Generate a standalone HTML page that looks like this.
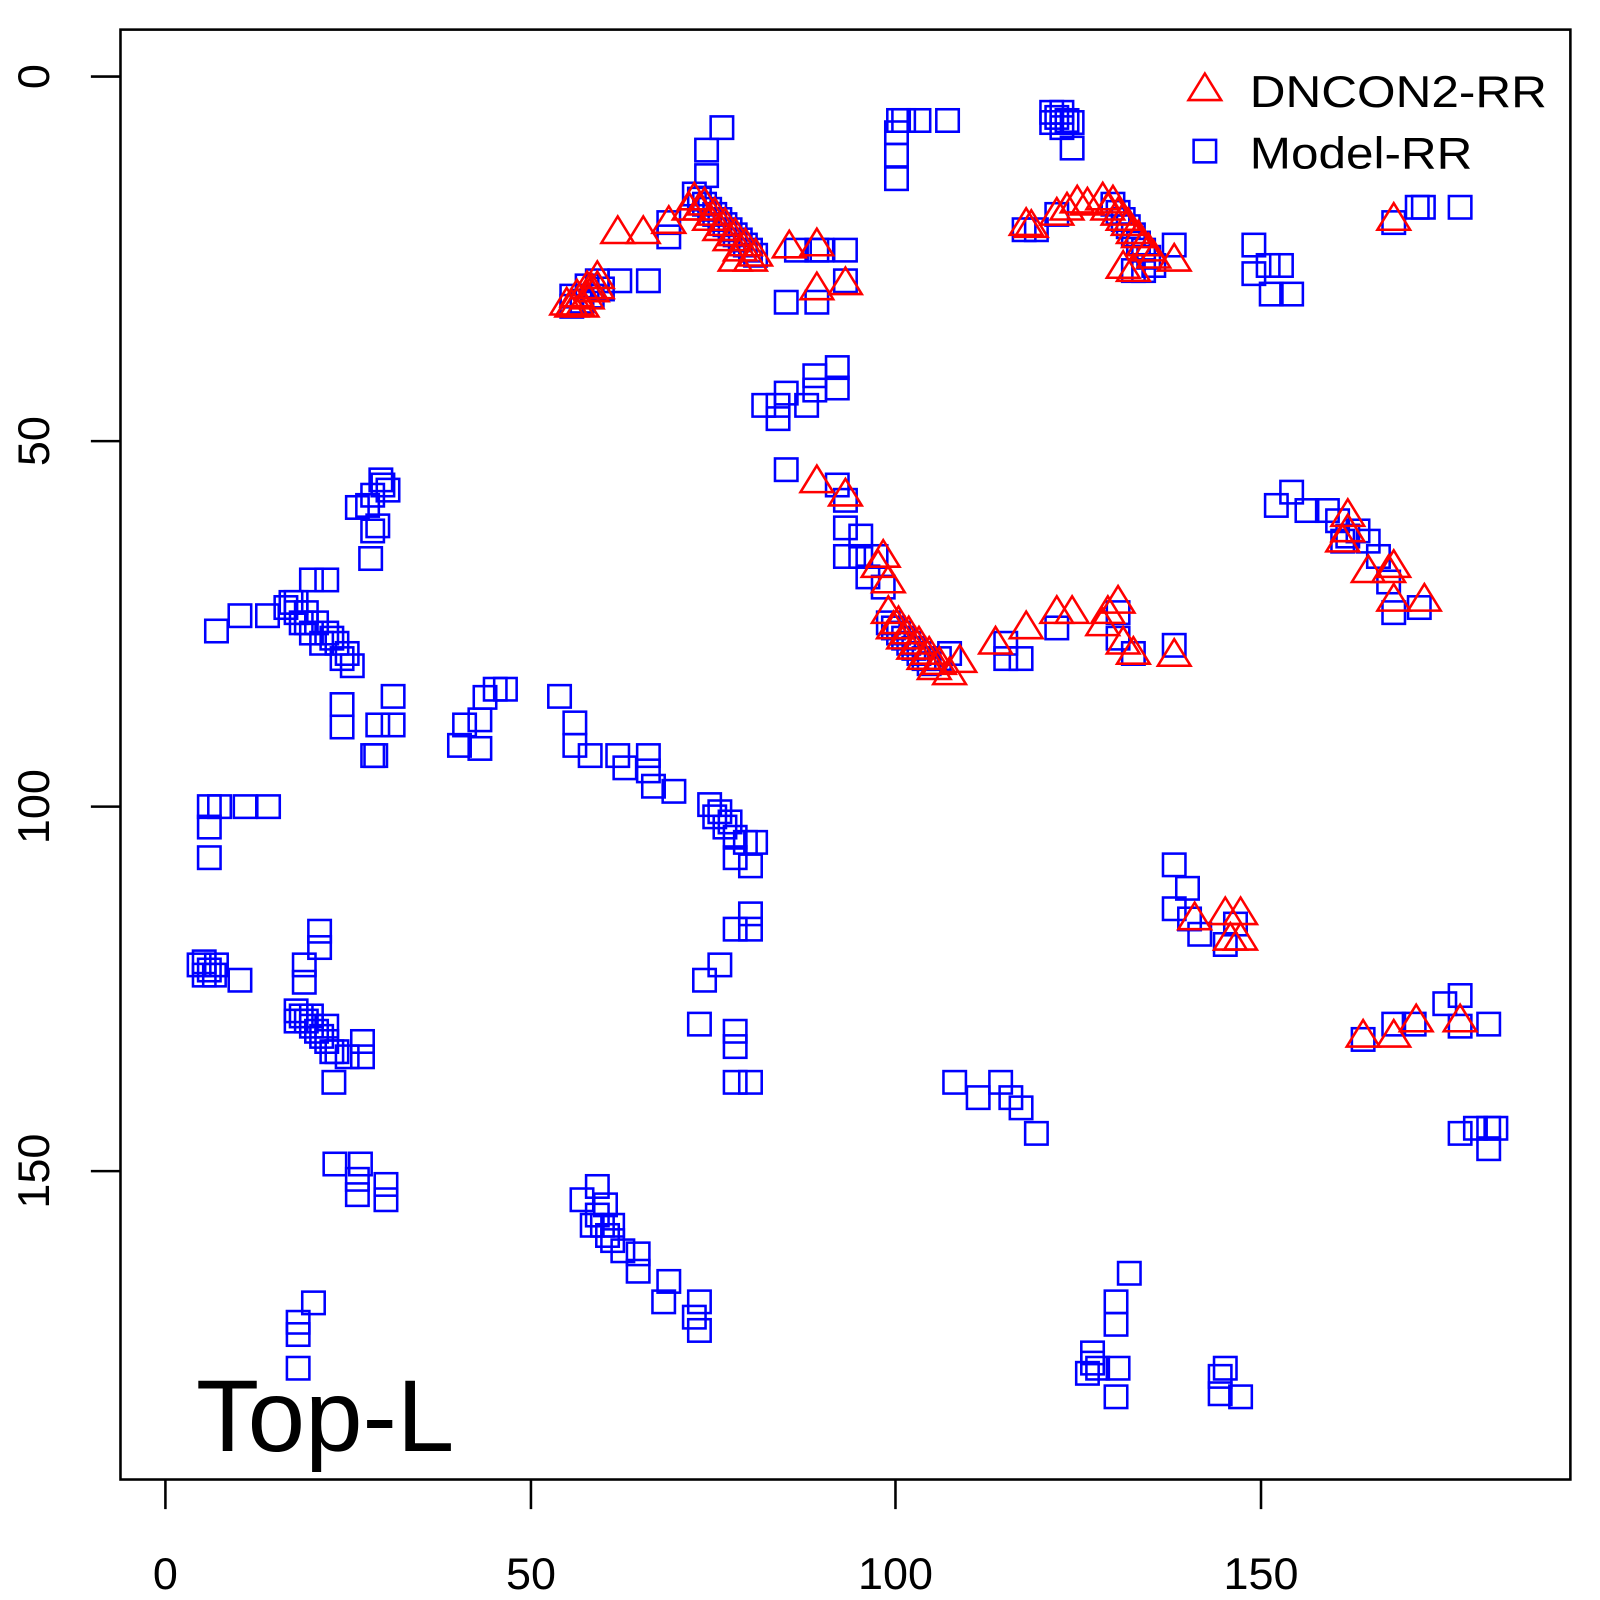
<!DOCTYPE html>
<html><head><meta charset="utf-8"><style>html,body{margin:0;padding:0;background:#fff}svg{display:block}</style></head>
<body>
<svg id="s" width="1600" height="1600" viewBox="0 0 1567 1567" xmlns="http://www.w3.org/2000/svg" font-family="Liberation Sans, sans-serif">
<rect x="0" y="0" width="1567" height="1567" fill="#fff"/>
<g id="pts"></g>
<rect x="118" y="29" width="1420" height="1420" fill="none" stroke="#000" stroke-width="2.5"/>
<g stroke="#000" stroke-width="2.5">
<line x1="162" y1="1449" x2="162" y2="1478"/><line x1="520" y1="1449" x2="520" y2="1478"/>
<line x1="877" y1="1449" x2="877" y2="1478"/><line x1="1235" y1="1449" x2="1235" y2="1478"/>
<line x1="118" y1="75" x2="89" y2="75"/><line x1="118" y1="432" x2="89" y2="432"/>
<line x1="118" y1="790" x2="89" y2="790"/><line x1="118" y1="1147" x2="89" y2="1147"/>
</g>
<g font-size="44" text-anchor="middle" fill="#000">
<text x="162" y="1556">0</text><text x="520" y="1556">50</text><text x="877" y="1556">100</text><text x="1235" y="1556">150</text>
<text transform="translate(48,75) rotate(-90)">0</text>
<text transform="translate(48,432) rotate(-90)">50</text>
<text transform="translate(48,790) rotate(-90)">100</text>
<text transform="translate(48,1147) rotate(-90)">150</text>
</g>
<text x="1224" y="105" font-size="44" textLength="291" lengthAdjust="spacingAndGlyphs">DNCON2-RR</text>
<text x="1224" y="165" font-size="44" textLength="218" lengthAdjust="spacingAndGlyphs">Model-RR</text>
<polygon points="1180,72 1164,98 1196,98" fill="none" stroke="#f00" stroke-width="2.5"/>
<rect x="1169" y="137" width="22" height="22" fill="none" stroke="#00f" stroke-width="2.5"/>
<text x="192" y="1421" font-size="100" textLength="253" lengthAdjust="spacingAndGlyphs">Top-L</text>
</svg>
<script>
var sq=[[707,125],[692,147],[692,172],[680,190],[690,200],[700,210],[710,220],[720,230],[730,240],[740,250],[655,218],[655,232],[635,275],[607,275],[590,283],[580,290],[570,295],[560,290],[560,300],[685,195],[695,205],[705,215],[715,225],[725,235],[735,245],[575,280],[585,275],
[770,296],[800,296],[800,245],[780,245],[828,275],[828,245],[805,245],
[880,118],[885,118],[900,118],[928,118],[878,130],[878,152],[878,175],
[1030,110],[1040,110],[1050,120],[1050,145],[1040,125],[1030,120],[1035,115],[1045,118],
[1003,225],[1015,225],[1035,210],[1090,200],[1100,215],[1110,230],[1120,245],[1130,260],[1150,240],[1110,265],[1120,265],[1095,208],[1105,222],[1115,238],[1125,252],
[1228,240],[1228,268],[1242,260],[1255,260],[1245,288],[1265,288],
[1388,203],[1394,203],[1430,203],[1365,218],
[820,360],[820,380],[798,368],[798,382],[790,397],[770,385],[762,397],[748,397],[762,410],
[770,460],[820,475],[828,490],[828,517],[843,525],[828,545],[843,545],[858,545],[850,565],[865,575],
[870,610],[880,620],[890,630],[900,640],[910,650],[920,645],[930,640],[985,645],[1000,645],[985,630],[1035,615],[1095,600],[1150,632],[1095,625],[1110,640],[875,615],[885,625],[895,635],[905,645],
[1250,495],[1265,482],[1280,500],[1300,500],[1310,510],[1320,525],[1330,520],[1340,530],[1350,545],[1360,570],[1365,600],[1390,595],[1315,530],
[373,470],[365,485],[360,495],[350,497],[370,515],[365,520],[363,547],[320,568],[305,568],[290,590],[280,595],[300,600],[310,610],[320,620],[330,630],[340,640],[345,652],[262,603],[235,603],[212,618],[285,590],[295,610],[305,620],[315,630],[380,480],[375,475],[290,600],[300,610],[325,625],[335,645],
[335,690],[335,712],[385,682],[385,710],[370,710],[368,740],[365,740],
[485,675],[495,675],[475,683],[470,705],[455,710],[450,730],[470,733],
[548,682],[563,708],[563,730],[578,740],[605,740],[612,752],[635,740],[635,755],[640,770],[660,775],[695,788],[700,800],[710,810],[720,820],[730,825],[740,825],[720,840],[735,848],[705,795],[715,805],
[205,790],[215,790],[240,790],[263,790],[205,810],[205,840],
[735,895],[735,910],[720,910],[705,945],[690,960],[685,1003],[720,1010],[720,1025],[720,1060],[735,1060],
[200,942],[210,955],[235,960],[313,912],[313,928],[298,945],[298,962],[290,990],[300,1000],[310,1010],[320,1020],[330,1030],[340,1035],[355,1020],[355,1035],[327,1060],[195,945],[205,950],[295,995],[305,1005],[315,1015],[200,955],[212,945],[290,1000],[305,995],[320,1005],[325,1030],
[328,1140],[353,1140],[350,1155],[378,1160],[378,1175],[350,1170],
[585,1162],[593,1180],[570,1175],[590,1200],[600,1215],[610,1225],[625,1228],[625,1245],[655,1255],[650,1275],[685,1275],[685,1303],[680,1290],[585,1190],[595,1210],[580,1200],[600,1200],
[307,1276],[292,1295],[292,1307],[292,1340],
[1106,1247],[1093,1275],[1093,1297],[1070,1325],[1065,1345],[1075,1340],[1095,1340],[1093,1368],[1200,1340],[1195,1365],[1215,1368],[1195,1348],[1070,1335],
[935,1060],[958,1075],[980,1060],[990,1075],[1000,1085],[1015,1110],
[1150,847],[1163,870],[1150,890],[1165,900],[1175,915],[1200,925],[1210,905],
[1335,1018],[1365,1003],[1385,1003],[1415,983],[1430,975],[1430,1005],[1458,1003],[1430,1110],[1445,1105],[1458,1105],[1465,1105],[1458,1125]];
var tr=[[555,298],[565,290],[575,282],[585,272],[560,300],[570,300],[580,285],[605,228],[630,228],[655,218],[675,205],[680,195],[690,200],[700,210],[710,220],[720,230],[730,240],[740,250],[720,255],[773,242],[800,240],[800,283],[828,278],[685,205],[695,215],[705,225],[715,235],[725,245],[735,255],[565,298],[575,292],[585,282],
[1005,220],[1010,222],[1035,210],[1045,205],[1055,198],[1065,200],[1080,195],[1090,198],[1095,210],[1105,220],[1115,232],[1125,245],[1100,262],[1110,265],[1150,255],[1365,215],[1085,205],[1100,215],[1110,228],[1120,240],[1130,252],
[800,472],[828,485],[865,545],[860,555],[870,570],[870,600],[880,610],[890,620],[900,630],[910,640],[920,650],[930,660],[940,648],[975,630],[1005,615],[1035,600],[1050,600],[1085,600],[1095,590],[1080,612],[1100,630],[1110,640],[1150,642],[875,615],[885,625],[895,635],[905,645],[915,655],
[1320,505],[1315,530],[1320,520],[1340,560],[1360,560],[1365,555],[1365,588],[1395,588],
[1170,900],[1200,895],[1215,895],[1205,920],[1215,920],[1335,1015],[1365,1015],[1387,1000],[1430,1000]];
var h='';
sq.forEach(function(p){h+='<rect x="'+(p[0]-11)+'" y="'+(p[1]-11)+'" width="22" height="22" fill="none" stroke="#00f" stroke-width="2.5"/>';});
tr.forEach(function(p){h+='<polygon points="'+p[0]+','+(p[1]-16)+' '+(p[0]-16)+','+(p[1]+10)+' '+(p[0]+16)+','+(p[1]+10)+'" fill="none" stroke="#f00" stroke-width="2.5"/>';});
document.getElementById('pts').innerHTML=h;
</script>
</body></html>
